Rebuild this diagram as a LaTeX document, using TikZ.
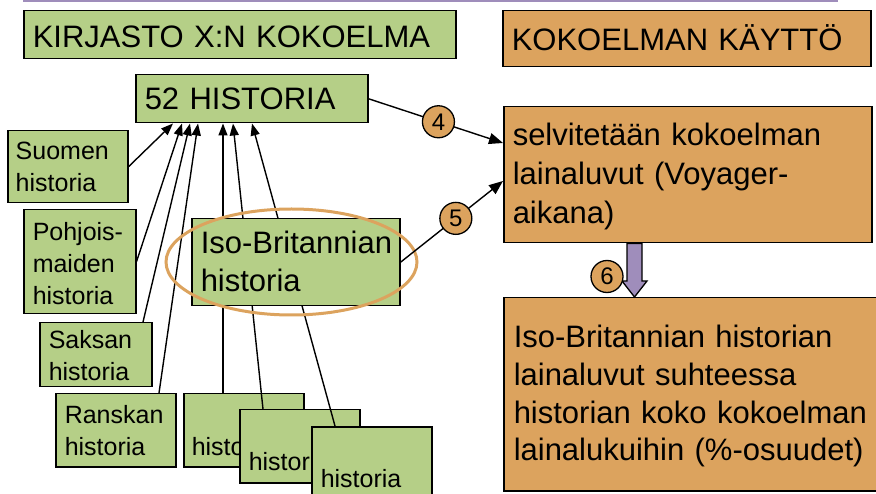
\documentclass[tikz,border=0pt]{standalone}
\usepackage{fontspec}
\setmainfont{Liberation Sans}
\usetikzlibrary{arrows.meta,calc,shapes.geometric}
\definecolor{gfill}{HTML}{B5CF87}
\definecolor{ofill}{HTML}{DCA35E}
\definecolor{pfill}{HTML}{9F8DBB}
\hyphenpenalty=10000
\exhyphenpenalty=10000
\begin{document}
\begin{tikzpicture}[x=1pt,y=-1pt,
  basebox/.style={draw=black, line width=1.5pt, anchor=north west, align=left, inner ysep=0pt},
  gbox/.style={basebox, fill=gfill},
  obox/.style={basebox, fill=ofill},
  bigtxt/.style={font=\fontsize{31}{38}\selectfont},
  smalltxt/.style={font=\fontsize{25}{32}\selectfont},
  num/.style={circle, draw=black, line width=1.3pt, fill=ofill, minimum size=32pt, inner sep=0pt, font=\fontsize{24}{24}\selectfont},
  conn/.style={line width=1.4pt, -{Triangle[length=12pt,width=9pt]}},
  bigconn/.style={line width=1.4pt, -{Triangle[length=14pt,width=11pt]}},
  hilite/.style={ellipse, draw=ofill, line width=3pt, minimum width=251pt, minimum height=106pt, inner sep=0pt},
  barrow/.style={draw=black, line width=1.3pt, fill=pfill, line join=miter},
  topline/.style={draw=pfill, line width=3pt}
]
\useasboundingbox (0,0) rectangle (876,494);
\clip (0,0) rectangle (876,494);

\draw[topline] (23,1) -- (838,1);

% headers
\node[gbox, bigtxt, minimum width=432pt, minimum height=48pt, inner xsep=9pt, text width=414pt, text height=37pt, text depth=11pt] (kirj) at (23,10) {KIRJASTO X:N KOKOELMA};
\node[obox, bigtxt, minimum width=368pt, minimum height=56pt, inner xsep=9pt, text width=350pt, text height=40pt, text depth=16pt] (kaytto) at (502,10) {KOKOELMAN KÄYTTÖ};

% collection
\node[gbox, bigtxt, minimum width=232pt, minimum height=48pt, inner xsep=9pt, text width=214pt, text height=35pt, text depth=13pt] (h52) at (135,74) {52 HISTORIA};
\node[gbox, smalltxt, minimum width=120pt, minimum height=72pt, inner xsep=8pt, text width=104pt, text height=29pt, text depth=43pt] (suomen) at (7,130) {Suomen\\historia};
\node[gbox, smalltxt, minimum width=112pt, minimum height=104pt, inner xsep=9pt, text width=94pt, text height=31pt, text depth=73pt] (pohj) at (23,209) {Pohjois-\\maiden\\historia};
\node[gbox, smalltxt, minimum width=112pt, minimum height=64pt, inner xsep=9pt, text width=94pt, text height=26pt, text depth=38pt] (saksan) at (39,322) {Saksan\\historia};
\node[gbox, smalltxt, minimum width=120pt, minimum height=73pt, inner xsep=9pt, text width=102pt, text height=30pt, text depth=43pt] (ranskan) at (55,393) {Ranskan\\historia};
\node[gbox, smalltxt, minimum width=120pt, minimum height=73pt, inner xsep=8pt, text width=104pt, text height=62pt, text depth=11pt] (hb1) at (183,393) {historia};
\node[gbox, smalltxt, minimum width=120pt, minimum height=73pt, inner xsep=9pt, text width=102pt, text height=61pt, text depth=12pt] (hb2) at (239,409) {historia};
\node[gbox, smalltxt, minimum width=120pt, minimum height=80pt, inner xsep=9pt, text width=102pt, text height=61pt, text depth=19pt] (hb3) at (311,426) {historia};

% connectors into 52 HISTORIA
\draw[conn] (suomen.east) -- ($(h52.south west)+(38,0)$);
\draw[conn] (pohj.east) -- ($(h52.south west)+(47,0)$);
\draw[conn] ($(saksan.north west)+(104,0)$) -- ($(h52.south west)+(55,0)$);
\draw[conn] ($(ranskan.north west)+(104,0)$) -- ($(h52.south west)+(63,0)$);
\draw[conn] ($(hb1.north west)+(40,0)$) -- ($(h52.south west)+(88,0)$);
\draw[conn] ($(hb2.north west)+(24,0)$) -- ($(h52.south west)+(98,0)$);
\draw[conn] ($(hb3.north west)+(24,0)$) -- ($(h52.south west)+(117,0)$);

% Iso-Britannia box and highlight
\node[gbox, bigtxt, minimum width=208pt, minimum height=87pt, inner xsep=9pt, text width=190pt, text height=35pt, text depth=52pt] (iso) at (191,218) {\mbox{Iso-Britannian}\\historia};
\node[hilite] (hl) at (291.5,262) {};

% usage side
\node[obox, font=\fontsize{31}{39}\selectfont, minimum width=368pt, minimum height=136pt, inner xsep=9pt, text width=350pt, text height=39pt, text depth=97pt] (selv) at (503,106) {selvitetään kokoelman\\lainaluvut (Voyager-\\aikana)};
\node[obox, font=\fontsize{31}{37.7}\selectfont, minimum width=380pt, minimum height=193pt, inner xsep=10pt, text width=360pt, text height=50pt, text depth=143pt] (isob) at (503,297) {Iso-Britannian historian\\lainaluvut suhteessa\\historian koko kokoelman\\lainalukuihin (\%-osuudet)};

\draw[bigconn] (h52.east) -- node[num, pos=0.52] (n4) {4} ($(selv.north west)+(0,37)$);
\draw[bigconn] (iso.east) -- node[num, pos=0.54] (n5) {5} ($(selv.north west)+(0,75)$);

\coordinate (a6s) at ($(selv.south west)+(131.5,0)$);
\coordinate (a6e) at ($(isob.north west)+(131.5,0)$);
\draw[barrow] ($(a6s)+(-7.5,0)$) -- ($(a6e)+(-7.5,-16)$) -- ($(a6e)+(-12.5,-16)$) -- (a6e) -- ($(a6e)+(12.5,-16)$) -- ($(a6e)+(7.5,-16)$) -- ($(a6s)+(7.5,0)$) -- cycle;
\node[num] (n6) at ($(a6s)+(-27.5,33)$) {6};
\end{tikzpicture}
\end{document}
